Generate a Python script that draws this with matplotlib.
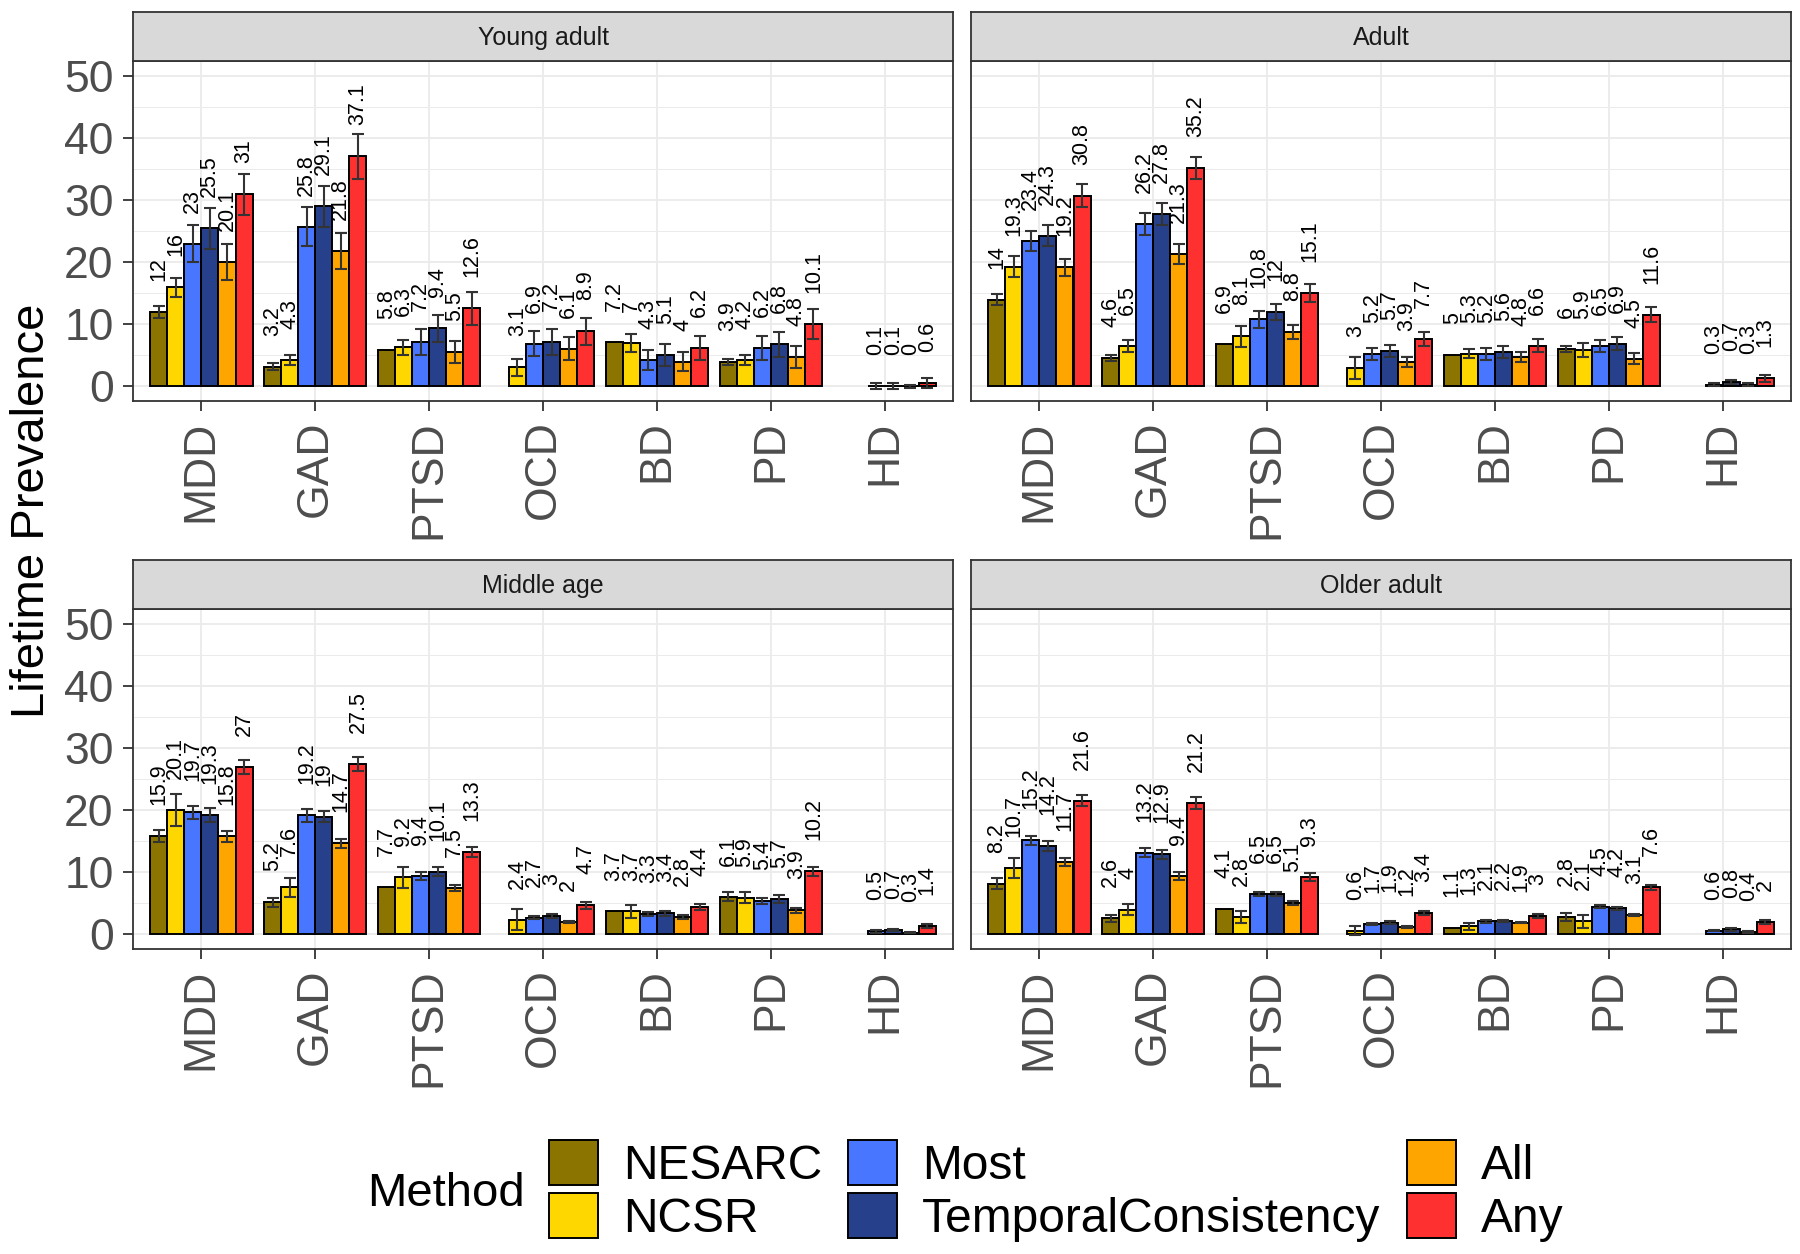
import matplotlib
matplotlib.use('Agg')
import matplotlib.pyplot as plt
from matplotlib.patches import Patch
import numpy as np

plt.rcParams['font.family'] = ['Liberation Sans', 'DejaVu Sans']

nan = np.nan

disorders = ['MDD', 'GAD', 'PTSD', 'OCD', 'BD', 'PD', 'HD']
methods = ['NESARC', 'NCSR', 'Most', 'TemporalConsistency', 'All', 'Any']
colors = ['#8B7500', '#FFD700', '#4876FF', '#27408B', '#FFA500', '#FF3030']
groups = ['Young adult', 'Adult', 'Middle age', 'Older adult']

# rows = disorders, columns = methods
young = [
    [12, 16, 23, 25.5, 20.1, 31],
    [3.2, 4.3, 25.8, 29.1, 21.8, 37.1],
    [5.8, 6.3, 7.2, 9.4, 5.5, 12.6],
    [nan, 3.1, 6.9, 7.2, 6.1, 8.9],
    [7.2, 7, 4.3, 5.1, 4, 6.2],
    [3.9, 4.2, 6.2, 6.8, 4.8, 10.1],
    [nan, nan, 0.1, 0.1, 0, 0.6],
]
young_err = [
    [0.9, 1.5, 3.0, 3.3, 2.9, 3.3],
    [0.5, 0.8, 3.2, 3.3, 2.9, 3.6],
    [nan, 1.2, 2.1, 2.2, 1.8, 2.7],
    [nan, 1.4, 2.0, 2.1, 1.9, 2.2],
    [nan, 1.5, 1.6, 1.8, 1.5, 2.0],
    [0.45, 0.8, 2.0, 2.0, 1.8, 2.4],
    [nan, nan, 0.5, 0.5, 0.3, 0.8],
]

adult = [
    [14, 19.3, 23.4, 24.3, 19.2, 30.8],
    [4.6, 6.5, 26.2, 27.8, 21.3, 35.2],
    [6.9, 8.1, 10.8, 12, 8.8, 15.1],
    [nan, 3, 5.2, 5.7, 3.9, 7.7],
    [5, 5.3, 5.2, 5.6, 4.8, 6.6],
    [6, 5.9, 6.5, 6.9, 4.5, 11.6],
    [nan, nan, 0.3, 0.7, 0.3, 1.3],
]
adult_err = [
    [0.9, 1.7, 1.6, 1.7, 1.4, 1.8],
    [0.5, 1.0, 1.7, 1.8, 1.6, 1.8],
    [nan, 1.7, 1.35, 1.3, 1.1, 1.5],
    [nan, 1.8, 1.0, 1.0, 0.8, 1.1],
    [nan, 0.7, 1.0, 1.0, 0.8, 1.0],
    [0.45, 1.1, 1.0, 1.1, 0.9, 1.2],
    [nan, nan, 0.2, 0.3, 0.2, 0.6],
]

middle = [
    [15.9, 20.1, 19.7, 19.3, 15.8, 27],
    [5.2, 7.6, 19.2, 19, 14.7, 27.5],
    [7.7, 9.2, 9.4, 10.1, 7.5, 13.3],
    [nan, 2.4, 2.7, 3, 2, 4.7],
    [3.7, 3.7, 3.3, 3.4, 2.8, 4.4],
    [6.1, 5.9, 5.4, 5.7, 3.9, 10.2],
    [nan, nan, 0.5, 0.7, 0.3, 1.4],
]
middle_err = [
    [1.0, 2.6, 1.0, 1.1, 0.9, 1.1],
    [0.7, 1.5, 1.0, 0.9, 0.7, 1.2],
    [nan, 1.7, 0.6, 0.7, 0.5, 0.8],
    [nan, 1.7, 0.2, 0.3, 0.2, 0.6],
    [nan, 1.0, 0.3, 0.4, 0.3, 0.5],
    [0.7, 0.9, 0.5, 0.6, 0.4, 0.7],
    [nan, nan, 0.2, 0.2, 0.1, 0.3],
]

older = [
    [8.2, 10.7, 15.2, 14.2, 11.7, 21.6],
    [2.6, 4, 13.2, 12.9, 9.4, 21.2],
    [4.1, 2.8, 6.5, 6.5, 5.1, 9.3],
    [nan, 0.6, 1.7, 1.9, 1.2, 3.4],
    [1.1, 1.3, 2.1, 2.2, 1.9, 3],
    [2.8, 2.1, 4.5, 4.2, 3.1, 7.6],
    [nan, nan, 0.6, 0.8, 0.4, 2],
]
older_err = [
    [0.9, 1.6, 0.7, 0.8, 0.6, 0.9],
    [0.6, 0.9, 0.7, 0.8, 0.6, 0.9],
    [nan, 0.9, 0.3, 0.3, 0.3, 0.6],
    [nan, 0.7, 0.2, 0.2, 0.1, 0.3],
    [nan, 0.6, 0.2, 0.2, 0.1, 0.3],
    [0.6, 1.0, 0.3, 0.3, 0.2, 0.4],
    [nan, nan, 0.1, 0.2, 0.1, 0.3],
]

panels = [(young, young_err), (adult, adult_err), (middle, middle_err), (older, older_err)]

W, H = 1800, 1254
fig = plt.figure(figsize=(W / 100, H / 100), dpi=100)

# panel corners in pixels (left, top)
corners = [(133, 61), (971, 61), (133, 609), (971, 609)]
pw, ph, sh = 820, 340, 49
bw = 0.15
x = np.arange(1, len(disorders) + 1)

for k, (vals, errs) in enumerate(panels):
    x0, y0 = corners[k]
    ax = fig.add_axes([x0 / W, 1 - (y0 + ph) / H, pw / W, ph / H])
    vals = np.array(vals, dtype=float)
    errs = np.array(errs, dtype=float)

    ax.set_xlim(0.4, len(disorders) + 0.6)
    ax.set_ylim(-2.35, 52.5)
    ax.set_yticks([0, 10, 20, 30, 40, 50])
    ax.set_yticks([5, 15, 25, 35, 45], minor=True)
    ax.grid(which='major', color='#EBEBEB', lw=1.3)
    ax.grid(which='minor', axis='y', color='#EBEBEB', lw=0.7)
    ax.set_axisbelow(True)

    for j, m in enumerate(methods):
        xs = x + (j - 2.5) * bw
        v = vals[:, j]
        ok = ~np.isnan(v)
        ax.bar(xs[ok], v[ok], width=bw, color=colors[j], edgecolor='black',
               linewidth=1.4, zorder=2)
        e = errs[:, j]
        ok2 = ok & ~np.isnan(e)
        ax.errorbar(xs[ok2], v[ok2], yerr=e[ok2], fmt='none', ecolor='#333333',
                    elinewidth=1.5, capsize=4.5, capthick=1.5, zorder=3)
        for xi, vi in zip(xs[ok], v[ok]):
            ax.text(xi, vi + 5, '%g' % vi, rotation=90, ha='center', va='bottom',
                    fontsize=15.5, color='black', zorder=4)

    ax.set_xticks(x)
    ax.set_xticklabels(disorders, rotation=90, fontsize=32, color='#4D4D4D')
    ax.tick_params(axis='x', which='minor', bottom=False)
    ax.tick_params(axis='both', which='major', length=7, width=1.3, color='#333333', pad=7)
    ax.tick_params(axis='y', which='minor', left=False)
    if k % 2 == 0:
        ax.tick_params(axis='y', labelsize=32, labelcolor='#4D4D4D')
    else:
        ax.tick_params(axis='y', left=False, labelleft=False)
    for s in ax.spines.values():
        s.set_color('#333333')
        s.set_linewidth(1.3)

    st = fig.add_axes([x0 / W, 1 - y0 / H, pw / W, sh / H])
    st.set_facecolor('#D9D9D9')
    st.set_xticks([])
    st.set_yticks([])
    for s in st.spines.values():
        s.set_color('#333333')
        s.set_linewidth(1.3)
    st.text(0.5, 0.47, groups[k], ha='center', va='center', fontsize=18,
            color='#1A1A1A', transform=st.transAxes)

fig.text(32 / W, 1 - 511 / H, 'Lifetime Prevalence', rotation=90, ha='center',
         va='center', fontsize=34)

handles = [Patch(facecolor=c, edgecolor='black', linewidth=1.4) for c in colors]
fig.legend(handles, methods, ncol=3, loc='upper left',
           bbox_to_anchor=(549 / W, 1 - 1140 / H), frameon=False, fontsize=34.5,
           handlelength=1.02, handleheight=1.08, handletextpad=0.52,
           columnspacing=0.55, labelspacing=0.08, borderpad=0, borderaxespad=0)
fig.text(367 / W, 1 - 1194 / H, 'Method', ha='left', va='center', fontsize=34)

fig.savefig('out.png', dpi=100)
